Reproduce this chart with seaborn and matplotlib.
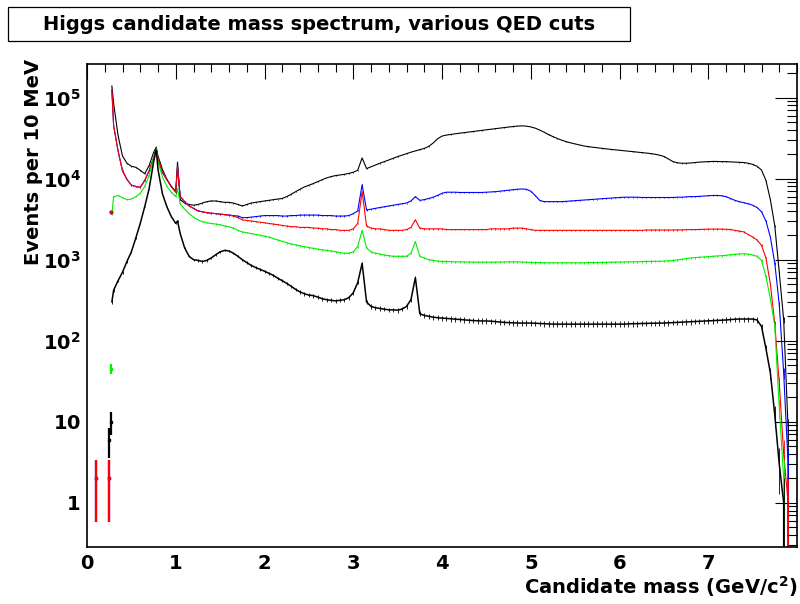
import numpy as np
import pandas as pd
import matplotlib
matplotlib.use("Agg")
import matplotlib.pyplot as plt
import matplotlib.patches as mpatches
from matplotlib.ticker import FixedLocator, MultipleLocator, LogLocator, NullFormatter, FuncFormatter
import seaborn as sns

# ---------------- data ----------------
# bin centres in GeV/c^2 (10 MeV bins, sampled)
mass = np.concatenate([
    [0.00, 0.05, 0.10, 0.15, 0.20, 0.25, 0.27, 0.28],
    np.round(np.arange(0.30, 0.751, 0.05), 2),
    [0.78],
    np.round(np.arange(0.80, 1.001, 0.05), 2),
    [1.02],
    np.round(np.arange(1.05, 7.951, 0.05), 2),
])

no_cut = [0, 0, 0, 0, 0, 6, 3.9e3, 1.4e5,
          8.5e4, 3.4e4, 1.9e4, 1.55e4, 1.42e4, 1.38e4, 1.27e4, 1.15e4, 1.45e4, 2.1e4,
          2.45e4,
          1.9e4, 1.3e4, 9.8e3, 8.0e3, 7.0e3,
          1.6e4,
          5.5e3, 5.0e3, 4.8e3, 4.7e3, 4.8e3, 5.0e3, 5.2e3, 5.3e3, 5.3e3, 5.2e3,
          5.1e3, 5.1e3, 5.0e3, 4.8e3, 4.6e3, 4.8e3, 5.0e3, 5.1e3, 5.2e3, 5.3e3,
          5.4e3, 5.5e3, 5.6e3, 5.7e3, 6.0e3, 6.4e3, 6.9e3, 7.4e3, 7.9e3, 8.3e3,
          8.7e3, 9.2e3, 9.7e3, 1.02e4, 1.06e4, 1.09e4, 1.11e4, 1.13e4, 1.16e4, 1.2e4,
          1.27e4, 1.8e4, 1.33e4, 1.4e4, 1.47e4, 1.55e4, 1.62e4, 1.7e4, 1.78e4, 1.87e4,
          1.95e4, 2.03e4, 2.12e4, 2.2e4, 2.28e4, 2.36e4, 2.5e4, 2.75e4, 3.1e4, 3.35e4,
          3.45e4, 3.52e4, 3.58e4, 3.64e4, 3.7e4, 3.76e4, 3.82e4, 3.88e4, 3.94e4, 4.0e4,
          4.07e4, 4.14e4, 4.2e4, 4.27e4, 4.34e4, 4.4e4, 4.45e4, 4.48e4, 4.45e4, 4.35e4,
          4.2e4, 3.98e4, 3.75e4, 3.5e4, 3.3e4, 3.13e4, 2.98e4, 2.86e4, 2.76e4, 2.68e4,
          2.6e4, 2.53e4, 2.48e4, 2.44e4, 2.4e4, 2.36e4, 2.33e4, 2.3e4, 2.27e4, 2.24e4,
          2.21e4, 2.18e4, 2.15e4, 2.13e4, 2.1e4, 2.07e4, 2.04e4, 2.0e4, 1.95e4, 1.88e4,
          1.75e4, 1.63e4, 1.57e4, 1.55e4, 1.55e4, 1.56e4, 1.58e4, 1.6e4, 1.61e4, 1.62e4,
          1.63e4, 1.63e4, 1.62e4, 1.62e4, 1.61e4, 1.6e4, 1.59e4, 1.58e4, 1.55e4, 1.5e4,
          1.42e4, 1.28e4, 9.5e3, 5.5e3, 2.6e3, 700, 180, 8, 0]

cut_blue = [0, 0, 2, 0, 0, 2, 3.9e3, 1.25e5,
            4.5e4, 2.2e4, 1.25e4, 9.8e3, 8.3e3, 8.0e3, 7.8e3, 9.5e3, 1.25e4, 1.8e4,
            2.3e4,
            1.75e4, 1.2e4, 9.7e3, 8.0e3, 6.8e3,
            1.4e4,
            6.0e3, 5.2e3, 4.6e3, 4.3e3, 4.0e3, 3.9e3, 3.8e3, 3.75e3, 3.7e3, 3.65e3,
            3.6e3, 3.55e3, 3.5e3, 3.45e3, 3.3e3, 3.3e3, 3.35e3, 3.4e3, 3.45e3, 3.5e3,
            3.5e3, 3.5e3, 3.5e3, 3.45e3, 3.45e3, 3.5e3, 3.5e3, 3.55e3, 3.55e3, 3.55e3,
            3.55e3, 3.55e3, 3.5e3, 3.5e3, 3.5e3, 3.45e3, 3.45e3, 3.45e3, 3.5e3, 3.7e3,
            4.0e3, 8.4e3, 4.1e3, 4.2e3, 4.3e3, 4.4e3, 4.5e3, 4.6e3, 4.7e3, 4.8e3,
            4.9e3, 5.0e3, 5.3e3, 6.0e3, 5.4e3, 5.5e3, 5.7e3, 5.9e3, 6.2e3, 6.6e3,
            6.8e3, 6.8e3, 6.8e3, 6.75e3, 6.75e3, 6.75e3, 6.75e3, 6.75e3, 6.75e3, 6.8e3,
            6.85e3, 6.9e3, 7.0e3, 7.1e3, 7.2e3, 7.3e3, 7.4e3, 7.45e3, 7.4e3, 7.0e3,
            6.2e3, 5.4e3, 5.2e3, 5.2e3, 5.2e3, 5.2e3, 5.2e3, 5.25e3, 5.3e3, 5.35e3,
            5.4e3, 5.45e3, 5.5e3, 5.55e3, 5.6e3, 5.65e3, 5.7e3, 5.75e3, 5.8e3, 5.85e3,
            5.9e3, 5.9e3, 5.9e3, 5.9e3, 5.85e3, 5.85e3, 5.85e3, 5.85e3, 5.85e3, 5.85e3,
            5.85e3, 5.85e3, 5.9e3, 5.9e3, 5.95e3, 6.0e3, 6.0e3, 6.05e3, 6.1e3, 6.15e3,
            6.2e3, 6.2e3, 6.15e3, 6.0e3, 5.7e3, 5.4e3, 5.2e3, 5.05e3, 4.9e3, 4.7e3,
            4.4e3, 3.9e3, 3.0e3, 1.9e3, 900, 280, 40, 3, 0]

cut_red = [0, 0, 2, 0, 0, 2, 3.9e3, 1.25e5,
           4.5e4, 2.2e4, 1.25e4, 9.8e3, 8.3e3, 8.0e3, 7.8e3, 9.5e3, 1.25e4, 1.8e4,
           2.3e4,
           1.75e4, 1.2e4, 9.7e3, 8.0e3, 6.8e3,
           1.4e4,
           6.0e3, 5.2e3, 4.6e3, 4.3e3, 4.0e3, 3.9e3, 3.8e3, 3.75e3, 3.7e3, 3.65e3,
           3.6e3, 3.55e3, 3.45e3, 3.3e3, 3.1e3, 3.05e3, 3.0e3, 2.95e3, 2.9e3, 2.85e3,
           2.8e3, 2.75e3, 2.7e3, 2.65e3, 2.6e3, 2.55e3, 2.55e3, 2.5e3, 2.5e3, 2.5e3,
           2.45e3, 2.45e3, 2.4e3, 2.4e3, 2.35e3, 2.35e3, 2.3e3, 2.3e3, 2.3e3, 2.4e3,
           2.8e3, 6.9e3, 2.6e3, 2.45e3, 2.4e3, 2.4e3, 2.35e3, 2.3e3, 2.3e3, 2.3e3,
           2.3e3, 2.35e3, 2.5e3, 3.1e3, 2.45e3, 2.4e3, 2.4e3, 2.4e3, 2.4e3, 2.4e3,
           2.35e3, 2.35e3, 2.35e3, 2.35e3, 2.35e3, 2.35e3, 2.35e3, 2.35e3, 2.35e3, 2.35e3,
           2.4e3, 2.4e3, 2.4e3, 2.4e3, 2.4e3, 2.45e3, 2.45e3, 2.45e3, 2.4e3, 2.35e3,
           2.3e3, 2.3e3, 2.3e3, 2.3e3, 2.3e3, 2.3e3, 2.3e3, 2.3e3, 2.3e3, 2.3e3,
           2.3e3, 2.3e3, 2.3e3, 2.3e3, 2.3e3, 2.3e3, 2.3e3, 2.3e3, 2.3e3, 2.3e3,
           2.3e3, 2.3e3, 2.3e3, 2.3e3, 2.3e3, 2.32e3, 2.32e3, 2.32e3, 2.32e3, 2.32e3,
           2.32e3, 2.32e3, 2.33e3, 2.33e3, 2.34e3, 2.35e3, 2.35e3, 2.36e3, 2.37e3, 2.38e3,
           2.38e3, 2.38e3, 2.38e3, 2.37e3, 2.36e3, 2.3e3, 2.25e3, 2.2e3, 2.05e3, 1.9e3,
           1.75e3, 1.5e3, 1.05e3, 500, 160, 30, 4, 1, 0]

cut_green = [0, 0, 0, 0, 0, 0, 45, 3.6e3,
             6.0e3, 6.2e3, 5.8e3, 5.5e3, 5.6e3, 6.0e3, 6.6e3, 8.0e3, 1.1e4, 1.8e4,
             2.35e4,
             1.6e4, 1.05e4, 8.0e3, 6.8e3, 6.0e3,
             7.5e3,
             4.9e3, 4.2e3, 3.7e3, 3.35e3, 3.1e3, 2.95e3, 2.85e3, 2.8e3, 2.75e3, 2.7e3,
             2.6e3, 2.55e3, 2.45e3, 2.3e3, 2.2e3, 2.15e3, 2.1e3, 2.05e3, 2.0e3, 1.95e3,
             1.9e3, 1.82e3, 1.75e3, 1.68e3, 1.62e3, 1.56e3, 1.52e3, 1.48e3, 1.44e3, 1.41e3,
             1.38e3, 1.35e3, 1.32e3, 1.3e3, 1.28e3, 1.25e3, 1.22e3, 1.2e3, 1.2e3, 1.25e3,
             1.45e3, 2.3e3, 1.4e3, 1.25e3, 1.2e3, 1.17e3, 1.14e3, 1.12e3, 1.1e3, 1.1e3,
             1.1e3, 1.1e3, 1.2e3, 1.67e3, 1.1e3, 1.05e3, 1.0e3, 980, 960, 950,
             950, 945, 940, 940, 935, 935, 930, 930, 930, 930,
             930, 930, 935, 935, 940, 940, 940, 935, 930, 925,
             920, 920, 915, 915, 915, 915, 915, 915, 915, 915,
             915, 915, 920, 920, 920, 925, 925, 930, 930, 935,
             935, 940, 940, 945, 945, 950, 950, 955, 955, 960,
             965, 975, 990, 1.01e3, 1.03e3, 1.05e3, 1.06e3, 1.07e3, 1.08e3, 1.09e3,
             1.1e3, 1.11e3, 1.12e3, 1.13e3, 1.15e3, 1.16e3, 1.18e3, 1.18e3, 1.17e3, 1.14e3,
             1.1e3, 980, 620, 330, 150, 15, 2, 0, 0]

tight_cut = [0, 0, 0, 0, 0, 0, 10, 300,
             420, 550, 700, 950, 1.25e3, 1.85e3, 2.8e3, 4.5e3, 7.5e3, 1.6e4,
             2.3e4,
             1.3e4, 6.5e3, 4.5e3, 3.4e3, 2.8e3,
             3.0e3,
             2.1e3, 1.4e3, 1.1e3, 1.0e3, 980, 950, 980, 1.05e3, 1.15e3, 1.25e3,
             1.3e3, 1.28e3, 1.2e3, 1.1e3, 1.0e3, 920, 850, 800, 760, 720,
             680, 640, 590, 550, 510, 470, 430, 400, 380, 365,
             360, 345, 330, 320, 315, 310, 315, 320, 340, 390,
             520, 900, 300, 265, 255, 250, 245, 240, 240, 238,
             245, 265, 320, 600, 215, 205, 200, 195, 192, 190,
             188, 186, 184, 182, 180, 178, 177, 176, 175, 175,
             174, 172, 170, 168, 167, 166, 165, 165, 165, 165,
             164, 163, 162, 161, 160, 160, 160, 160, 160, 160,
             160, 160, 160, 160, 160, 160, 160, 160, 160, 160,
             160, 161, 162, 162, 163, 163, 164, 164, 165, 165,
             166, 167, 168, 169, 170, 171, 172, 173, 174, 175,
             176, 177, 178, 180, 182, 184, 185, 185, 185, 185,
             180, 150, 80, 40, 12, 3, 1, 0, 0]

series_names = ["no QED cut", "cut 1", "cut 2", "cut 3", "all cuts"]
series_values = [no_cut, cut_blue, cut_red, cut_green, tight_cut]
series_colors = ["#000000", "#0000ff", "#ff0000", "#00ee00", "#000000"]
series_widths = [0.8, 0.8, 0.8, 0.8, 1.1]

y_tick_values = [1, 10, 100, 1e3, 1e4, 1e5]
y_tick_labels = [r"$\mathbf{1}$", r"$\mathbf{10}$", r"$\mathbf{10^{2}}$",
                 r"$\mathbf{10^{3}}$", r"$\mathbf{10^{4}}$", r"$\mathbf{10^{5}}$"]
x_tick_values = [0, 1, 2, 3, 4, 5, 6, 7]

for v in series_values:
    assert len(v) == len(mass), (len(v), len(mass))

# ---------------- plotting ----------------
sns.set_theme(style="white")
plt.rcParams["font.family"] = ["DejaVu Sans"]
plt.rcParams["font.weight"] = "bold"
plt.rcParams["mathtext.fontset"] = "dejavusans"
plt.rcParams["text.color"] = "black"
plt.rcParams["axes.labelcolor"] = "black"
plt.rcParams["xtick.color"] = "black"
plt.rcParams["ytick.color"] = "black"

FS = 14.0

frames = []
for name, vals in zip(series_names, series_values):
    frames.append(pd.DataFrame({"mass": mass, "events": np.asarray(vals, float), "cut": name}))
df = pd.concat(frames, ignore_index=True)
threshold = 0.275          # continuous spectrum starts above the two-particle threshold
df_main = df[df["mass"] > threshold]

fig = plt.figure(figsize=(8.0, 6.04), dpi=100)
ax = fig.add_axes([87 / 800, 1 - 547 / 604, (797 - 87) / 800, (547 - 64) / 604])

for name, col, lw in zip(series_names, series_colors, series_widths):
    sns.lineplot(data=df_main[df_main["cut"] == name], x="mass", y="events",
                 color=col, estimator=None, sort=False, linewidth=lw, legend=False, ax=ax)

for name, vals, col in zip(series_names, series_values, series_colors):
    v = np.asarray(vals, float)
    main = mass > threshold
    ax.errorbar(mass[main], v[main], yerr=np.sqrt(v[main]), fmt="none", ecolor=col,
                elinewidth=0.6, capsize=0)
    low = (~main) & (v > 0)
    if low.any():
        ax.errorbar(mass[low], v[low], yerr=np.sqrt(v[low]), fmt="s", color=col,
                    markersize=2.0, ecolor=col, elinewidth=1.6, capsize=0)

ax.set_yscale("log")
ax.set_xlim(0, 8.0)
ax.set_ylim(0.284, 2.6e5)

ax.xaxis.set_major_locator(FixedLocator(x_tick_values))
ax.xaxis.set_minor_locator(MultipleLocator(0.2))
ax.yaxis.set_major_locator(FixedLocator(y_tick_values))
ax.yaxis.set_major_formatter(FuncFormatter(
    lambda v, p: y_tick_labels[y_tick_values.index(v)] if v in y_tick_values else ""))
ax.yaxis.set_minor_locator(LogLocator(base=10, subs=np.arange(2, 10), numticks=30))
ax.yaxis.set_minor_formatter(NullFormatter())

ax.tick_params(axis="both", which="both", direction="in", top=True, right=True,
               color="black", width=0.8, labelsize=FS, labelcolor="black")
ax.tick_params(axis="x", which="major", length=10.8, pad=5.0)
ax.tick_params(axis="x", which="minor", length=5.5)
ax.tick_params(axis="y", which="major", length=15.6, pad=4.5)
ax.tick_params(axis="y", which="minor", length=7.2)
for lab in ax.get_xticklabels():
    lab.set_fontweight("bold")

for s in ax.spines.values():
    s.set_color("black")
    s.set_linewidth(1.2)

ax.set_xlabel(r"Candidate mass (GeV/c$^{\mathbf{2}}$)", fontsize=FS, fontweight="bold",
              loc="right", labelpad=1, color="black")
ax.set_ylabel("Events per 10 MeV", fontsize=FS, fontweight="bold", loc="top", color="black")
ax.yaxis.set_label_coords(-0.062, 1.01)

# title box
fig.patches.append(mpatches.Rectangle((8 / 800, 1 - 41 / 604), 622 / 800, 34 / 604,
                                      transform=fig.transFigure, facecolor="white",
                                      edgecolor="black", linewidth=0.9))
fig.text(319 / 800, 1 - 24 / 604, "Higgs candidate mass spectrum, various QED cuts",
         ha="center", va="center", fontsize=FS, fontweight="bold", color="black")

fig.savefig("out.png", dpi=100)
